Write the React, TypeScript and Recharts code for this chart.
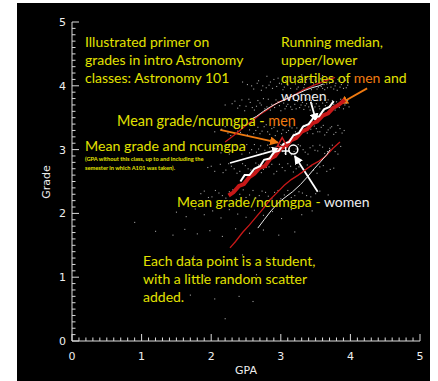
import { ScatterChart, Scatter, XAxis, YAxis, ReferenceLine } from "recharts";

type Pt = [number, number];

// students, [gpa, grade] — grades sit on letter-grade rows with a bit of jitter
const ROW_40: Pt[] = [
  [2.45, 4.06], [2.52, 4.02], [2.61, 3.95], [2.68, 4.08], [2.74, 4.0], [2.79, 3.97], [2.85, 4.06], [2.9, 4.1],
  [2.94, 3.99], [2.98, 4.04], [3.03, 3.94], [3.07, 4.08], [3.1, 4.01], [3.12, 4.14], [3.14, 3.96], [3.18, 4.11],
  [3.21, 4.03], [3.25, 3.98], [3.28, 4.07], [3.31, 3.93], [3.34, 4.02], [3.37, 4.1], [3.4, 3.97], [3.43, 4.05],
  [3.46, 4.0], [3.49, 4.09], [3.5, 4.13], [3.52, 3.95], [3.55, 4.04], [3.58, 3.99], [3.61, 4.08], [3.63, 3.94],
  [3.66, 4.03], [3.69, 4.11], [3.72, 3.98], [3.75, 4.06], [3.78, 4.0], [3.81, 3.93], [3.84, 4.07], [3.87, 4.02],
  [3.9, 3.96], [3.93, 4.09], [3.96, 4.01],
  [2.58, 4.0], [2.66, 4.04], [2.72, 3.93], [2.83, 4.01], [2.88, 3.96], [2.96, 4.12], [3.01, 4.03], [3.05, 3.98],
  [3.16, 4.05], [3.23, 3.95], [3.27, 4.12], [3.33, 3.97], [3.36, 4.05], [3.41, 4.11], [3.44, 3.94], [3.47, 4.03],
  [3.51, 4.07], [3.54, 3.98], [3.57, 4.11], [3.6, 3.96], [3.62, 4.02], [3.65, 4.09], [3.67, 3.97], [3.7, 4.04],
  [3.73, 4.12], [3.76, 3.95], [3.79, 4.04], [3.82, 4.1], [3.85, 3.98], [3.88, 4.05], [3.91, 4.12], [3.94, 3.97],
  [3.97, 4.05], [3.3, 4.17], [3.6, 4.16], [2.8, 4.15],
];
const ROW_37: Pt[] = [
  [2.2, 3.7], [2.3, 3.72], [2.38, 3.65], [2.44, 3.78], [2.5, 3.68], [2.56, 3.74], [2.62, 3.62], [2.65, 3.68],
  [2.67, 3.77], [2.72, 3.7], [2.77, 3.64], [2.82, 3.79], [2.87, 3.71], [2.91, 3.66], [2.96, 3.75], [3.0, 3.61],
  [3.04, 3.73], [3.08, 3.68], [3.12, 3.78], [3.16, 3.63], [3.18, 3.8], [3.2, 3.71], [3.24, 3.76], [3.27, 3.66],
  [3.31, 3.74], [3.35, 3.69], [3.38, 3.79], [3.42, 3.62], [3.45, 3.72], [3.49, 3.67], [3.53, 3.77], [3.56, 3.64],
  [3.6, 3.73], [3.64, 3.69], [3.68, 3.78], [3.72, 3.63], [3.76, 3.71], [3.8, 3.75], [3.84, 3.66], [3.88, 3.74],
  [3.92, 3.7], [3.96, 3.77],
  [2.34, 3.76], [2.41, 3.69], [2.48, 3.61], [2.54, 3.79], [2.59, 3.66], [2.7, 3.73], [2.75, 3.8], [2.8, 3.67],
  [2.85, 3.62], [2.93, 3.78], [2.98, 3.69], [3.02, 3.77], [3.06, 3.64], [3.1, 3.71], [3.14, 3.67], [3.22, 3.64],
  [3.26, 3.79], [3.29, 3.7], [3.33, 3.63], [3.37, 3.72], [3.4, 3.67], [3.44, 3.77], [3.47, 3.64], [3.51, 3.72],
  [3.55, 3.68], [3.58, 3.79], [3.62, 3.61], [3.66, 3.74], [3.7, 3.68], [3.74, 3.77], [3.78, 3.62], [3.82, 3.72],
  [3.86, 3.79], [3.9, 3.64], [3.94, 3.73], [3.98, 3.67],
];
const ROW_33: Pt[] = [
  [2.05, 3.28], [2.15, 3.32], [2.24, 3.26], [2.31, 3.37], [2.38, 3.29], [2.45, 3.35], [2.52, 3.23], [2.58, 3.38],
  [2.64, 3.3], [2.7, 3.25], [2.76, 3.36], [2.81, 3.28], [2.87, 3.33], [2.92, 3.22], [2.98, 3.39], [3.03, 3.31],
  [3.08, 3.27], [3.13, 3.36], [3.18, 3.24], [3.23, 3.34], [3.28, 3.29], [3.33, 3.38], [3.38, 3.26], [3.43, 3.32],
  [3.48, 3.37], [3.53, 3.28], [3.58, 3.35], [3.63, 3.23], [3.68, 3.31], [3.73, 3.36], [3.79, 3.27], [3.85, 3.33],
  [3.91, 3.3],
  [2.2, 3.36], [2.28, 3.22], [2.35, 3.33], [2.42, 3.27], [2.49, 3.39], [2.55, 3.31], [2.61, 3.25], [2.67, 3.35],
  [2.73, 3.29], [2.79, 3.39], [2.84, 3.24], [2.9, 3.35], [2.95, 3.29], [3.01, 3.25], [3.06, 3.37], [3.11, 3.3],
  [3.16, 3.34], [3.21, 3.28], [3.26, 3.23], [3.31, 3.35], [3.36, 3.31], [3.41, 3.37], [3.46, 3.25], [3.51, 3.33],
  [3.56, 3.28], [3.61, 3.38], [3.66, 3.27], [3.71, 3.34], [3.76, 3.24], [3.82, 3.38], [3.88, 3.26],
];
const ROW_30: Pt[] = [
  [2.05, 3.02], [2.14, 2.95], [2.22, 3.07], [2.3, 2.98], [2.37, 3.04], [2.44, 2.93], [2.51, 3.08], [2.58, 3.0],
  [2.65, 2.96], [2.71, 3.06], [2.77, 2.99], [2.84, 3.03], [2.9, 2.94], [2.96, 3.07], [3.02, 2.97], [3.09, 3.05],
  [3.15, 2.92], [3.22, 3.01], [3.28, 3.06], [3.35, 2.96], [3.42, 3.03], [3.49, 2.99], [3.56, 3.07], [3.63, 2.94],
  [3.7, 3.02], [3.78, 2.97], [3.86, 3.05],
  [2.1, 3.05], [2.26, 2.93], [2.34, 3.06], [2.41, 2.99], [2.48, 3.04], [2.55, 2.95], [2.62, 3.08], [2.68, 3.01],
  [2.74, 2.93], [2.81, 3.07], [2.87, 2.98], [2.93, 3.04], [3.0, 3.08], [3.06, 2.94], [3.12, 3.02], [3.19, 2.97],
  [3.25, 3.08], [3.32, 3.0], [3.39, 2.93], [3.46, 3.06], [3.53, 2.98], [3.6, 3.04], [3.67, 2.97], [3.74, 3.07],
  [3.82, 2.93],
];
const ROW_27: Pt[] = [
  [1.95, 2.72], [2.05, 2.66], [2.13, 2.77], [2.21, 2.68], [2.29, 2.74], [2.37, 2.63], [2.45, 2.78], [2.53, 2.7],
  [2.6, 2.65], [2.68, 2.76], [2.75, 2.69], [2.83, 2.73], [2.9, 2.62], [2.98, 2.77], [3.06, 2.67], [3.14, 2.74],
  [3.22, 2.7], [3.3, 2.64], [3.38, 2.76], [3.47, 2.68], [3.56, 2.73], [3.66, 2.66], [3.76, 2.71],
  [2.0, 2.74], [2.17, 2.64], [2.25, 2.78], [2.33, 2.7], [2.41, 2.66], [2.49, 2.75], [2.57, 2.68], [2.64, 2.79],
  [2.72, 2.64], [2.79, 2.72], [2.87, 2.77], [2.94, 2.66], [3.02, 2.72], [3.1, 2.78], [3.18, 2.65], [3.26, 2.73],
  [3.34, 2.68], [3.43, 2.74], [3.52, 2.63], [3.61, 2.75], [3.71, 2.69],
];
const ROW_23: Pt[] = [
  [1.85, 2.31], [1.96, 2.25], [2.06, 2.36], [2.16, 2.28], [2.26, 2.34], [2.36, 2.22], [2.46, 2.37], [2.55, 2.29],
  [2.64, 2.24], [2.73, 2.35], [2.82, 2.27], [2.91, 2.33], [3.0, 2.23], [3.1, 2.36], [3.2, 2.28], [3.31, 2.32],
  [3.43, 2.26], [3.56, 2.35], [3.68, 2.29],
  [1.9, 2.35], [2.01, 2.26], [2.11, 2.32], [2.21, 2.24], [2.31, 2.37], [2.41, 2.3], [2.5, 2.25], [2.6, 2.36],
  [2.69, 2.28], [2.78, 2.33], [2.87, 2.23], [2.96, 2.36], [3.05, 2.29], [3.15, 2.25], [3.26, 2.34], [3.37, 2.28],
  [3.5, 2.31],
];
const ROW_20: Pt[] = [
  [1.5, 2.02], [1.64, 1.95], [1.77, 2.07], [1.9, 1.98], [2.02, 2.04], [2.14, 1.93], [2.26, 2.06], [2.38, 1.99],
  [2.5, 1.94], [2.62, 2.05], [2.75, 1.97], [2.88, 2.03], [3.01, 1.92], [3.15, 2.06], [3.3, 1.98], [3.45, 2.04],
];
const ROW_17: Pt[] = [
  [0.9, 1.86], [1.2, 1.72], [1.45, 1.66], [1.62, 1.75], [1.8, 1.68], [1.98, 1.73], [2.16, 1.64], [2.35, 1.76],
  [2.55, 1.69], [2.75, 1.74], [2.97, 1.66], [3.2, 1.71],
];
const ROW_LOW: Pt[] = [
  [1.75, 1.33], [2.1, 1.28], [2.45, 1.35], [2.8, 1.3], [3.05, 1.27], [1.9, 1.02], [2.3, 0.97], [2.65, 1.04],
  [1.7, 0.72], [2.05, 0.66], [2.4, 0.7], [2.6, 0.62], [2.2, 0.35],
];

// running medians and quartiles
const MEN_MEDIAN: Pt[] = [
  [2.25, 2.28], [2.32, 2.33], [2.4, 2.43], [2.47, 2.46], [2.55, 2.57], [2.62, 2.62], [2.7, 2.72], [2.77, 2.74],
  [2.85, 2.86], [2.92, 2.9], [3.0, 3.02], [3.08, 3.06], [3.15, 3.15], [3.22, 3.18], [3.3, 3.28], [3.38, 3.32],
  [3.45, 3.41], [3.52, 3.44], [3.6, 3.53], [3.68, 3.57], [3.75, 3.65], [3.83, 3.7], [3.92, 3.78],
];
const WOMEN_MEDIAN: Pt[] = [
  [2.42, 2.5], [2.48, 2.6], [2.55, 2.6], [2.62, 2.7], [2.7, 2.74], [2.76, 2.84], [2.84, 2.86], [2.9, 2.96],
  [2.97, 2.98], [3.04, 3.09], [3.12, 3.12], [3.18, 3.22], [3.26, 3.26], [3.32, 3.36], [3.4, 3.4], [3.47, 3.5],
  [3.55, 3.52], [3.62, 3.63], [3.7, 3.67], [3.76, 3.76],
];
const MEN_UPPER: Pt[] = [
  [2.2, 3.12], [2.3, 3.2], [2.39, 3.28], [2.5, 3.38], [2.6, 3.46], [2.7, 3.55], [2.8, 3.62], [2.9, 3.7],
  [3.0, 3.76], [3.1, 3.8], [3.2, 3.86], [3.3, 3.92], [3.4, 3.97], [3.5, 4.02], [3.6, 4.06], [3.7, 4.1], [3.78, 4.13],
];
const WOMEN_UPPER: Pt[] = [
  [2.56, 3.47], [2.65, 3.52], [2.75, 3.6], [2.85, 3.67], [2.95, 3.73], [3.05, 3.78], [3.15, 3.83], [3.25, 3.88],
  [3.35, 3.93], [3.45, 3.97], [3.55, 4.0], [3.61, 4.03],
];
const MEN_LOWER: Pt[] = [
  [2.27, 1.46], [2.35, 1.56], [2.45, 1.7], [2.55, 1.82], [2.65, 1.95], [2.75, 2.08], [2.84, 2.21], [2.95, 2.33],
  [3.05, 2.44], [3.15, 2.53], [3.25, 2.6], [3.35, 2.68], [3.45, 2.76], [3.55, 2.82], [3.64, 2.89], [3.75, 3.02],
  [3.85, 3.12],
];
const WOMEN_LOWER: Pt[] = [
  [2.67, 1.77], [2.76, 1.9], [2.86, 2.04], [2.96, 2.16], [3.06, 2.25], [3.17, 2.34], [3.28, 2.45], [3.38, 2.57],
  [3.48, 2.7], [3.58, 2.82], [3.66, 2.92], [3.71, 3.0],
];

// means
const MEN_MEAN: Pt[] = [[3.02, 3.11]];
const WOMEN_MEAN: Pt[] = [[3.18, 3.0]];
const ALL_MEAN: Pt[] = [[3.07, 2.98]];

// arrows: [from, to] in data units
const ARROWS: { from: Pt; to: Pt; color: string }[] = [
  { from: [2.13, 3.31], to: [2.96, 3.11], color: "#f07a10" },
  { from: [2.27, 2.79], to: [2.99, 3.01], color: "#ffffff" },
  { from: [3.53, 2.34], to: [3.2, 2.9], color: "#ffffff" },
  { from: [4.24, 3.96], to: [3.85, 3.72], color: "#f07a10" },
  { from: [3.43, 3.75], to: [3.51, 3.44], color: "#ffffff" },
];

const MAJOR_TICKS = [0, 1, 2, 3, 4, 5];
const ALL_TICKS = Array.from({ length: 51 }, (_, i) => i / 10);

const toXY = (pts: Pt[]) => pts.map(([x, y]) => ({ x, y }));
const CLOUD = toXY([...ROW_40, ...ROW_37, ...ROW_33, ...ROW_30, ...ROW_27, ...ROW_23, ...ROW_20, ...ROW_17, ...ROW_LOW]);

const AXIS = "#dcdcdc";
const YELLOW = "#e2e200";
const ORANGE = "#f07a10";
const isMajor = (v: number) => MAJOR_TICKS.some((m) => Math.abs(v - m) < 1e-6);

const bottomTick = (p: any) => {
  const major = isMajor(p.payload.value);
  return (
    <g key={p.index}>
      <path d={`M${p.x},${p.y} V${p.y - (major ? 7 : 3.5)}`} stroke={AXIS} strokeWidth={1} />
      {major && (
        <text x={p.x} y={p.y + 19} textAnchor="middle" fill="#eee" fontSize={11} fontFamily="DejaVu Sans">
          {Math.round(p.payload.value)}
        </text>
      )}
    </g>
  );
};
const topTick = (p: any) => (
  <path key={p.index} d={`M${p.x},${p.y} V${p.y + (isMajor(p.payload.value) ? 7 : 3.5)}`} stroke={AXIS} strokeWidth={1} />
);
const leftTick = (p: any) => {
  const major = isMajor(p.payload.value);
  return (
    <g key={p.index}>
      <path d={`M${p.x},${p.y} H${p.x + (major ? 7 : 3.5)}`} stroke={AXIS} strokeWidth={1} />
      {major && (
        <text x={p.x - 6} y={p.y + 4} textAnchor="end" fill="#eee" fontSize={11} fontFamily="DejaVu Sans">
          {Math.round(p.payload.value)}
        </text>
      )}
    </g>
  );
};
const rightTick = (p: any) => (
  <path key={p.index} d={`M${p.x},${p.y} H${p.x - (isMajor(p.payload.value) ? 7 : 3.5)}`} stroke={AXIS} strokeWidth={1} />
);

const Dot = ({ cx, cy }: any) => <rect x={cx - 0.5} y={cy - 0.5} width={1.1} height={1.1} fill="#a0a0a0" />;
const Nothing = () => <g />;
const Triangle = ({ cx, cy }: any) => (
  <path d={`M${cx},${cy - 5} L${cx + 5},${cy + 4} L${cx - 5},${cy + 4} Z`} fill="none" stroke="#d42020" strokeWidth={1.5} />
);
const Ring = ({ cx, cy }: any) => <circle cx={cx} cy={cy} r={4.5} fill="none" stroke="#fff" strokeWidth={1.5} />;
const Plus = ({ cx, cy }: any) => (
  <path d={`M${cx - 4},${cy} H${cx + 4} M${cx},${cy - 4} V${cy + 4}`} stroke="#fff" strokeWidth={1.5} />
);

const text = (extra: React.CSSProperties): React.CSSProperties => ({
  position: "absolute",
  fontFamily: "Lato, 'Open Sans', sans-serif",
  fontSize: 14,
  lineHeight: "18px",
  color: YELLOW,
  whiteSpace: "nowrap",
  ...extra,
});

const axisCommon = {
  type: "number" as const,
  domain: [0, 5],
  ticks: ALL_TICKS,
  interval: 0 as const,
  tickLine: false,
  tickSize: 0,
  tickMargin: 0,
  stroke: AXIS,
  allowDataOverflow: true,
};

export default function App() {
  return (
    <div style={{ position: "absolute", left: 0, top: 0, width: 438, height: 381, background: "#fff", overflow: "hidden" }}>
      <div style={{ position: "absolute", left: 17, top: 3, width: 413, height: 378, background: "#000" }} />
      <svg width={0} height={0} style={{ position: "absolute" }}>
        <defs>
          <marker id="headW" viewBox="0 0 10 10" refX="9" refY="5" markerWidth="5" markerHeight="5" orient="auto">
            <path d="M0,0 L10,5 L0,10 Z" fill="#fff" />
          </marker>
          <marker id="headO" viewBox="0 0 10 10" refX="9" refY="5" markerWidth="5" markerHeight="5" orient="auto">
            <path d="M0,0 L10,5 L0,10 Z" fill={ORANGE} />
          </marker>
        </defs>
      </svg>
      <div style={{ position: "absolute", left: 0, top: 0 }}>
        <ScatterChart width={438} height={381} margin={{ top: 22, right: 18, bottom: 10, left: 32 }}>
          <XAxis {...axisCommon} dataKey="x" tick={bottomTick} height={30} />
          <XAxis {...axisCommon} xAxisId="top" orientation="top" dataKey="x" tick={topTick} height={0} />
          <YAxis {...axisCommon} dataKey="y" tick={leftTick} width={40} />
          <YAxis {...axisCommon} yAxisId="right" orientation="right" dataKey="y" tick={rightTick} width={0} />
          <Scatter xAxisId="top" yAxisId="right" data={CLOUD} shape={<Nothing />} isAnimationActive={false} />
          <Scatter data={CLOUD} shape={<Dot />} isAnimationActive={false} />
          <Scatter data={toXY(MEN_UPPER)} line={{ stroke: "#c81818", strokeWidth: 1.3 }} shape={<Nothing />} isAnimationActive={false} />
          <Scatter data={toXY(MEN_LOWER)} line={{ stroke: "#c81818", strokeWidth: 1.3 }} shape={<Nothing />} isAnimationActive={false} />
          <Scatter data={toXY(MEN_MEDIAN)} line={{ stroke: "#c81818", strokeWidth: 4 }} shape={<Nothing />} isAnimationActive={false} />
          <Scatter data={toXY(WOMEN_UPPER)} line={{ stroke: "#e8e8e8", strokeWidth: 1 }} shape={<Nothing />} isAnimationActive={false} />
          <Scatter data={toXY(WOMEN_LOWER)} line={{ stroke: "#e8e8e8", strokeWidth: 1 }} shape={<Nothing />} isAnimationActive={false} />
          <Scatter data={toXY(WOMEN_MEDIAN)} line={{ stroke: "#ffffff", strokeWidth: 2 }} shape={<Nothing />} isAnimationActive={false} />
          <Scatter data={toXY(MEN_MEAN)} shape={<Triangle />} isAnimationActive={false} />
          <Scatter data={toXY(WOMEN_MEAN)} shape={<Ring />} isAnimationActive={false} />
          <Scatter data={toXY(ALL_MEAN)} shape={<Plus />} isAnimationActive={false} />
          {ARROWS.map((a, i) => (
            <ReferenceLine
              key={i}
              segment={[
                { x: a.from[0], y: a.from[1] },
                { x: a.to[0], y: a.to[1] },
              ]}
              ifOverflow="visible"
              shape={(p: any) => (
                <line
                  x1={p.x1}
                  y1={p.y1}
                  x2={p.x2}
                  y2={p.y2}
                  stroke={a.color}
                  strokeWidth={1.8}
                  markerEnd={a.color === ORANGE ? "url(#headO)" : "url(#headW)"}
                />
              )}
            />
          ))}
        </ScatterChart>
      </div>

      <div style={{ ...text({ top: 176, color: "#eee", fontFamily: "DejaVu Sans", fontSize: 11, lineHeight: "12px" }), left: 47, transform: "translateX(-50%) rotate(-90deg)" }}>
        Grade
      </div>
      <div style={text({ left: 246, top: 365, color: "#eee", fontFamily: "DejaVu Sans", fontSize: 11, lineHeight: "12px", transform: "translateX(-50%)" })}>
        GPA
      </div>

      <div style={text({ left: 85, top: 33 })}>
        Illustrated primer on
        <br />
        grades in intro Astronomy
        <br />
        classes: Astronomy 101
      </div>
      <div style={text({ left: 281, top: 33 })}>
        Running median,
        <br />
        upper/lower
        <br />
        quartiles of <span style={{ color: ORANGE }}>men</span> and
        <br />
        <span style={{ color: "#eee" }}>women</span>
      </div>
      <div style={text({ left: 117, top: 112, fontSize: 14.4 })}>
        Mean grade/ncumgpa - <span style={{ color: ORANGE }}>men</span>
      </div>
      <div style={text({ left: 85, top: 137, fontSize: 14.2 })}>Mean grade and ncumgpa</div>
      <div style={text({ left: 85, top: 154, fontSize: 5.7, lineHeight: "9px", fontWeight: 700 })}>
        (GPA without this class, up to and including the
        <br />
        semester in which A101 was taken).
      </div>
      <div style={text({ left: 177, top: 193 })}>
        Mean grade/ncumgpa - <span style={{ color: "#eee" }}>women</span>
      </div>
      <div style={text({ left: 143, top: 252 })}>
        Each data point is a student,
        <br />
        with a little random scatter
        <br />
        added.
      </div>
    </div>
  );
}
